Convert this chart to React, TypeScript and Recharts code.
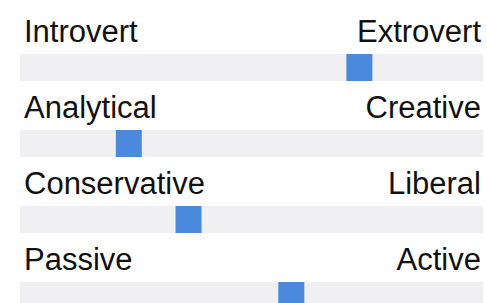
import { BarChart, Bar, XAxis, YAxis } from "recharts";

const traits = ["Introvert-Extrovert", "Analytical-Creative", "Conservative-Liberal", "Passive-Active"];
const leftLabels = ["Introvert", "Analytical", "Conservative", "Passive"];
const rightLabels = ["Extrovert", "Creative", "Liberal", "Active"];
const scores = [73.3, 23.5, 36.4, 58.6];

const data = traits.map((trait, i) => ({
	trait,
	left: leftLabels[i],
	right: rightLabels[i],
	score: scores[i],
}));

const MARK = 26;

function TraitRow(props: any) {
	const { x, y, width, height, background, payload } = props;
	const bg = background || { x, y, width: 463, height };
	const cx = x + width;
	return (
		<g>
			<rect x={cx - MARK / 2} y={y} width={MARK} height={height} fill="#4a89dc" />
			<text
				x={bg.x + 4}
				y={bg.y - 12}
				fontSize={31}
				fontFamily="'Liberation Sans', Arial, sans-serif"
				fill="#111"
			>
				{payload.left}
			</text>
			<text
				x={bg.x + bg.width - 2}
				y={bg.y - 12}
				fontSize={31}
				textAnchor="end"
				fontFamily="'Liberation Sans', Arial, sans-serif"
				fill="#111"
			>
				{payload.right}
			</text>
		</g>
	);
}

export default function App() {
	return (
		<div
			style={{
				position: "absolute",
				left: 0,
				top: 0,
				width: 487,
				height: 303,
				overflow: "hidden",
				background: "#fff",
			}}
		>
			<BarChart
				width={487}
				height={333}
				data={data}
				layout="vertical"
				margin={{ top: 29, right: 4, bottom: 0, left: 20 }}
			>
				<XAxis type="number" domain={[0, 100]} hide />
				<YAxis type="category" dataKey="trait" hide />
				<Bar
					dataKey="score"
					barSize={27}
					background={{ fill: "#f0f0f2" }}
					shape={TraitRow}
					isAnimationActive={false}
				/>
			</BarChart>
		</div>
	);
}
